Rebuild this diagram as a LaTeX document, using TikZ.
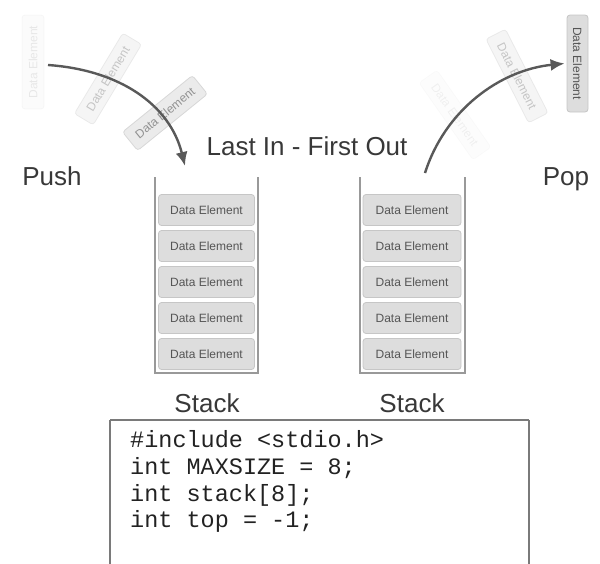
\documentclass[tikz,border=0pt]{standalone}
\usepackage{fontspec}
\setmainfont{Liberation Sans}
\newfontfamily\codefont{Liberation Mono}
\usetikzlibrary{arrows.meta}
\definecolor{elemfill}{HTML}{DDDDDD}
\definecolor{elemline}{HTML}{C6C6C6}
\definecolor{elemtext}{HTML}{555555}
\definecolor{wallgray}{HTML}{999999}
\definecolor{arrowgray}{HTML}{595959}
\definecolor{labelgray}{HTML}{383838}
\definecolor{framegray}{HTML}{7A7A7A}
\definecolor{codetext}{HTML}{222222}
\begin{document}
\begin{tikzpicture}[x=1pt,y=-1pt,
  elem/.style={draw=elemline, fill=elemfill, rounded corners=3pt, line width=0.8pt,
    minimum width=96pt, minimum height=31pt, inner sep=0pt,
    font=\fontsize{12}{13}\selectfont, text=elemtext},
  floatelem/.style={elem, minimum width=94pt, minimum height=22pt},
  wall/.style={draw=wallgray, line width=1.6pt},
  bigtext/.style={font=\fontsize{26}{30}\selectfont, text=labelgray, inner sep=0pt, anchor=base},
  move/.style={draw=arrowgray, line width=2.4pt, -{Latex[length=14pt,width=12pt]}},
  codeline/.style={font=\codefont\fontsize{23.5}{26}\selectfont, text=codetext, inner sep=0pt, anchor=base west},
  frame/.style={draw=framegray, line width=2pt},
]
\useasboundingbox (0,0) rectangle (600,563);

% elements in flight towards the left stack
\node[floatelem, rotate=90, opacity=0.12] (ghostA) at (33,62) {Data Element};
\node[floatelem, rotate=59, opacity=0.3] (ghostB) at (108,79) {Data Element};
\node[floatelem, rotate=39, opacity=0.6, minimum width=90pt, minimum height=24pt] (ghostC) at (165,113) {Data Element};

% elements leaving the right stack
\node[floatelem, rotate=-55, opacity=0.08] (ghostF) at (455,115) {Data Element};
\node[floatelem, rotate=-63, opacity=0.3] (ghostE) at (517,76) {Data Element};
\node[floatelem, rotate=-90, minimum width=97pt, minimum height=21pt] (popped) at (577.5,63.5) {Data Element};

% left stack
\draw[wall] (155,177) -- (155,373) -- (258,373) -- (258,177);
\foreach \i/\y in {1/210,2/246,3/282,4/318,5/354}
  \node[elem] (L\i) at (206.5,\y) {Data Element};

% right stack
\draw[wall] (360,177) -- (360,373) -- (465,373) -- (465,177);
\foreach \i/\y in {1/210,2/246,3/282,4/318,5/354}
  \node[elem, minimum width=98pt] (R\i) at (412,\y) {Data Element};

% labels
\node[bigtext] (push) at (52,185) {Push};
\node[bigtext] (pop) at (566,185) {Pop};
\node[bigtext] (lifo) at (307,155) {Last In - First Out};
\node[bigtext] (stackL) at (207,412) {Stack};
\node[bigtext] (stackR) at (412,412) {Stack};

% push and pop movements
\coordinate (pushstart) at (48,65);
\coordinate (pushend) at (185,166);
\coordinate (popstart) at (425,173);
\draw[move] (pushstart) .. controls (120,70) and (170,105) .. (pushend);
\draw[move] (popstart) .. controls (445,110) and (500,70) .. ([xshift=-2pt]popped.south);

% code listing
\draw[frame, line width=1.2pt] (110,420) -- (529,420);
\draw[frame] (110,566) -- (110,420);
\draw[frame] (529,566) -- (529,420);
\node[codeline] (c1) at (130,447) {\#include <stdio.h>};
\node[codeline] (c2) at (130,474) {int MAXSIZE = 8;};
\node[codeline] (c3) at (130,501) {int stack[8];};
\node[codeline] (c4) at (130,527) {int top = -1;};
\end{tikzpicture}
\end{document}
